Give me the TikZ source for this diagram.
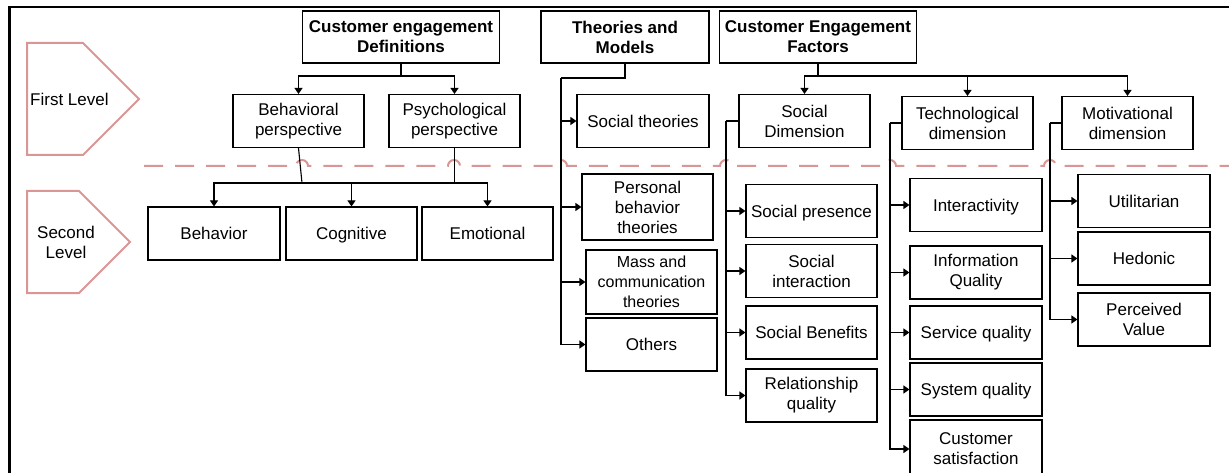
\documentclass[tikz,border=0pt]{standalone}
\usepackage{fontspec}
\setmainfont{Liberation Sans}
\usetikzlibrary{arrows.meta}
\definecolor{lvlred}{RGB}{217,150,148}

\begin{document}
\begin{tikzpicture}[x=1pt, y=-1pt,
    box/.style={draw, line width=1.1pt, align=center, inner sep=1pt,
      minimum width=131pt, minimum height=53pt,
      font=\fontsize{17}{20}\selectfont},
    oneline/.style={text height=12.4pt, text depth=0pt},
    head/.style={box, minimum width=197pt, minimum height=52pt,
      font=\fontsize{17}{20}\selectfont\bfseries},
    link/.style={line width=1.1pt},
    arr/.style={link, -{Triangle[length=6pt,width=8pt]}},
    lvl/.style={draw=lvlred, line width=2pt},
    lvltxt/.style={font=\fontsize{17}{20}\selectfont, align=center, inner sep=0pt},
  ]
    \useasboundingbox (0,0) rectangle (1229,473);

    % frame
    \draw[line width=2.5pt] (9.5,473) -- (9.5,7) -- (1229,7);

    % level markers
    \draw[lvl] (27,43) -- (83,43) -- (139,99) -- (83,155) -- (27,155) -- cycle;
    \node[lvltxt, anchor=west] (lvlone) at (30,99) {First Level};
    \draw[lvl] (27,191) -- (79,191) -- (130,242) -- (79,293) -- (27,293) -- cycle;
    \node[lvltxt] (lvltwo) at (66,242) {Second\\Level};

    % separator, jumps where the rails cross it
    \draw[lvl, dash pattern=on 19pt off 12pt]
      (144,166) -- (296,166) arc[start angle=180, end angle=360, radius=6]
      -- (448,166) arc[start angle=180, end angle=360, radius=6]
      -- (555,166) arc[start angle=180, end angle=360, radius=6]
      -- (720,166) arc[start angle=180, end angle=360, radius=6]
      -- (884,166) arc[start angle=180, end angle=360, radius=6]
      -- (1044,166) arc[start angle=180, end angle=360, radius=6]
      -- (1229,166);

    % headings
    \node[head] (ced) at (401,37) {Customer engagement\\Definitions};
    \node[head, minimum width=168pt] (tam) at (625,37) {Theories and\\Models};
    \node[head] (cef) at (818,37) {Customer Engagement\\Factors};

    % definitions
    \node[box] (behp) at (298.5,121) {Behavioral\\perspective};
    \node[box] (psyp) at (454.5,121) {Psychological\\perspective};
    \node[box, oneline, minimum width=132pt] (bhv) at (214,233.5) {Behavior};
    \node[box, oneline] (cog) at (351.5,233.5) {Cognitive};
    \node[box, oneline] (emo) at (487.5,233.5) {Emotional};

    \coordinate (cedj) at (401,76);
    \draw[link] (ced.south) -- (cedj);
    \draw[arr] (cedj) -| (behp.north);
    \draw[arr] (cedj) -| (psyp.north);

    \coordinate (defj) at (302,183);
    \draw[link] (behp.south) -- (defj);
    \draw[link] (psyp.south) -- (psyp.south |- defj);
    \draw[arr] (defj) -| (bhv.north);
    \draw[arr] (defj) -| (cog.north);
    \draw[arr] (defj) -| (emo.north);

    % theories and models
    \node[box, oneline, minimum width=132pt] (soct) at (643,121) {Social theories};
    \node[box, minimum height=66pt] (pers) at (647.5,207) {Personal\\behavior\\theories};
    \node[box, minimum height=64pt, font=\fontsize{16}{20}\selectfont]
      (mass) at (651.5,282) {Mass and\\communication\\theories};
    \node[box, oneline] (oth) at (651.5,344.5) {Others};

    \coordinate (tamr) at (561,78);
    \draw[link] (tam.south) |- (tamr);
    \draw[arr] (tamr) |- (soct.west);
    \draw[arr] (tamr) |- (pers.west);
    \draw[arr] (tamr) |- (mass.west);
    \draw[arr] (tamr) |- (oth.west);

    % factors
    \node[box] (sdim) at (804.5,121) {Social\\Dimension};
    \node[box] (tdim) at (967.5,123) {Technological\\dimension};
    \node[box] (mdim) at (1127.5,123) {Motivational\\dimension};

    \coordinate (cefj) at (818,76);
    \draw[link] (cef.south) -- (cefj);
    \draw[arr] (cefj) -| (sdim.north);
    \draw[arr] (cefj) -| (tdim.north);
    \draw[arr] (cefj) -| (mdim.north);

    % social dimension
    \node[box, oneline] (spres) at (811.5,211) {Social presence};
    \node[box] (sint) at (811.5,271) {Social\\interaction};
    \node[box, oneline] (sben) at (811.5,332.5) {Social Benefits};
    \node[box] (rel) at (811.5,395.5) {Relationship\\quality};

    \draw[link] (sdim.west) -- (726,121) coordinate (sdr);
    \draw[arr] (sdr) |- (spres.west);
    \draw[arr] (sdr) |- (sint.west);
    \draw[arr] (sdr) |- (sben.west);
    \draw[arr] (sdr) |- (rel.west);

    % technological dimension
    \node[box, oneline, minimum width=132pt] (inter) at (976,205) {Interactivity};
    \node[box, minimum width=132pt] (info) at (976,272.5) {Information\\Quality};
    \node[box, oneline, minimum width=132pt] (serv) at (976,332.5) {Service quality};
    \node[box, oneline, minimum width=132pt] (sys) at (976,389.5) {System quality};
    \node[box, minimum width=132pt, minimum height=58pt] (csat) at (976,449) {Customer\\satisfaction};

    \draw[link] (tdim.west) -- (890,123) coordinate (tdr);
    \draw[arr] (tdr) |- (inter.west);
    \draw[arr] (tdr) |- (info.west);
    \draw[arr] (tdr) |- (serv.west);
    \draw[arr] (tdr) |- (sys.west);
    \draw[arr] (tdr) |- (csat.west);

    % motivational dimension
    \node[box, oneline, minimum width=132pt] (util) at (1144,201) {Utilitarian};
    \node[box, oneline, minimum width=132pt] (hed) at (1144,258.5) {Hedonic};
    \node[box, minimum width=132pt] (perc) at (1144,319.5) {Perceived\\Value};

    \draw[link] (mdim.west) -- (1050,123) coordinate (mdr);
    \draw[arr] (mdr) |- (util.west);
    \draw[arr] (mdr) |- (hed.west);
    \draw[arr] (mdr) |- (perc.west);
\end{tikzpicture}
\end{document}
